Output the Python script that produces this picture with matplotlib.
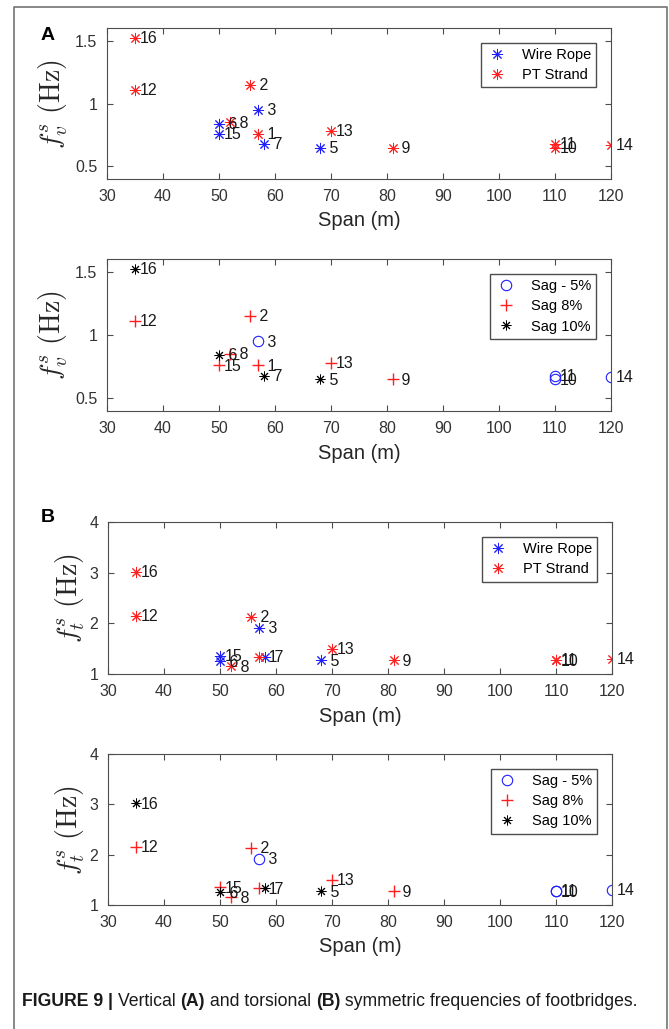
import numpy as np
import matplotlib
matplotlib.use("Agg")
import matplotlib.pyplot as plt
from matplotlib.lines import Line2D

plt.rcParams['font.family'] = ['Liberation Sans', 'DejaVu Sans']
plt.rcParams['mathtext.fontset'] = 'cm'

# -------------------------------------------------------
# Data
# -------------------------------------------------------
bridge_id = [1, 2, 3, 5, 6, 7, 8, 9, 10, 11, 12, 13, 14, 15, 16]
span = [57, 55.5, 57, 68, 50, 58, 52, 81, 110, 110, 35, 70, 120, 50, 35]
f_vert = [0.76, 1.15, 0.95, 0.65, 0.84, 0.68, 0.85, 0.65, 0.65, 0.68, 1.11, 0.78, 0.67, 0.76, 1.52]
f_tors = [1.33, 2.13, 1.91, 1.27, 1.25, 1.33, 1.15, 1.27, 1.27, 1.28, 2.15, 1.50, 1.30, 1.35, 3.02]
cable = ["PT", "PT", "WR", "WR", "WR", "WR", "PT", "PT", "PT", "PT", "PT", "PT", "PT", "WR", "PT"]
sag = [8, 8, 5, 10, 10, 10, 8, 8, 5, 5, 8, 8, 5, 8, 10]

cable_names = {"WR": "Wire Rope", "PT": "PT Strand"}
sag_names = {5: "Sag - 5%", 8: "Sag 8%", 10: "Sag 10%"}

W, H = 669, 1029
ASTER = (8, 2, 0)
BLUE = "#1f1fff"
RED = "#ff1f1f"

cable_style = {"WR": dict(marker=ASTER, color=BLUE, ms=8, mew=0.7),
               "PT": dict(marker=ASTER, color=RED, ms=8, mew=0.7)}
sag_style = {5: dict(marker="o", color=BLUE, ms=7.5, mfc="none", mew=0.8),
             8: dict(marker="+", color=RED, ms=9, mew=1.0),
             10: dict(marker=ASTER, color="black", ms=7, mew=0.7)}


def px_rect(l, t, r, b):
    return [l / W, 1 - b / H, (r - l) / W, (b - t) / H]


def style_axes(ax, ylim, yticks, ylabel, ylab_x):
    ax.set_xlim(30, 120)
    ax.set_xticks(np.arange(30, 121, 10))
    ax.set_ylim(*ylim)
    ax.set_yticks(yticks)
    ax.set_yticklabels([f"{v:g}" for v in yticks])
    ax.tick_params(direction="in", top=True, right=True, labelsize=11.5,
                   colors="0.3", labelcolor="0.2", length=4, width=0.8, pad=7)
    for s in ax.spines.values():
        s.set_color("0.3")
        s.set_linewidth(0.8)
    ax.set_xlabel("Span (m)", fontsize=14.5, color="0.15")
    ax.xaxis.set_label_coords(0.5, -0.215)
    ax.set_ylabel(ylabel, fontsize=20, color="0.15")
    ax.yaxis.label.set_verticalalignment("center")
    ax.yaxis.set_label_coords(ylab_x, 0.5)


def label_points(ax, yvals):
    for n, x, y in zip(bridge_id, span, yvals):
        ax.annotate(f"{n:>2}", (x, y), xytext=(3.5, -0.5), textcoords="offset points",
                    ha="left", va="center", fontsize=11.5, color="0.1")


def add_legend(ax, handles, names):
    ax.legend(handles, names, loc="upper right", bbox_to_anchor=(0.97, 0.9),
              borderaxespad=0, fontsize=10.5, fancybox=False, edgecolor="0.3",
              framealpha=1, handlelength=1.4, handletextpad=1.0, borderpad=0.35,
              labelspacing=0.42)


def plot_by_cable(ax, yvals):
    for key in ["WR", "PT"]:
        xs = [s for s, c in zip(span, cable) if c == key]
        ys = [v for v, c in zip(yvals, cable) if c == key]
        ax.plot(xs, ys, ls="none", **cable_style[key])
    handles = [Line2D([], [], ls="none", **cable_style[k]) for k in ["WR", "PT"]]
    add_legend(ax, handles, [cable_names[k] for k in ["WR", "PT"]])


def plot_by_sag(ax, yvals):
    for key in [5, 8, 10]:
        xs = [s for s, g in zip(span, sag) if g == key]
        ys = [v for v, g in zip(yvals, sag) if g == key]
        ax.plot(xs, ys, ls="none", **sag_style[key])
    handles = [Line2D([], [], ls="none", **sag_style[k]) for k in [5, 8, 10]]
    add_legend(ax, handles, [sag_names[k] for k in [5, 8, 10]])


fig = plt.figure(figsize=(W / 100, H / 100), dpi=100)

ax1 = fig.add_axes(px_rect(107, 28, 611, 179))
ax2 = fig.add_axes(px_rect(107, 259, 611, 411))
ax3 = fig.add_axes(px_rect(108, 522, 612, 674))
ax4 = fig.add_axes(px_rect(108, 754, 612, 905))

lab_v = r"$f_v^s\ (\mathrm{Hz})$"
lab_t = r"$f_t^s\ (\mathrm{Hz})$"

plot_by_cable(ax1, f_vert)
label_points(ax1, f_vert)
style_axes(ax1, (0.4, 1.6), [0.5, 1, 1.5], lab_v, (53 - 107) / 504)

plot_by_sag(ax2, f_vert)
label_points(ax2, f_vert)
style_axes(ax2, (0.4, 1.6), [0.5, 1, 1.5], lab_v, (53 - 107) / 504)

plot_by_cable(ax3, f_tors)
label_points(ax3, f_tors)
style_axes(ax3, (1, 4), [1, 2, 3, 4], lab_t, (70 - 108) / 504)

plot_by_sag(ax4, f_tors)
label_points(ax4, f_tors)
style_axes(ax4, (1, 4), [1, 2, 3, 4], lab_t, (70 - 108) / 504)

fig.text(41 / W, 1 - 36 / H, "A", fontsize=14, fontweight="bold", va="center", ha="left")
fig.text(41 / W, 1 - 518 / H, "B", fontsize=14, fontweight="bold", va="center", ha="left")

# outer frame (open at the bottom)
frame_x = [14 / W, 14 / W, 667 / W, 667 / W]
frame_y = [0, 1 - 7 / H, 1 - 7 / H, 0]
fig.add_artist(Line2D(frame_x, frame_y, color="0.45", lw=1.2, transform=fig.transFigure))

# caption with mixed bold / regular pieces
pieces = [("FIGURE 9 | ", "bold"), ("Vertical ", "normal"), ("(A)", "bold"),
          (" and torsional ", "normal"), ("(B)", "bold"),
          (" symmetric frequencies of footbridges.", "normal")]
renderer = fig.canvas.get_renderer()
x_px = 22
for txt, wt in pieces:
    t = fig.text(x_px / W, 1 - 1002 / H, txt, fontsize=12.7, fontweight=wt,
                 va="center", ha="left", color="0.1")
    x_px += t.get_window_extent(renderer=renderer).width

fig.savefig("out.png", dpi=100)
